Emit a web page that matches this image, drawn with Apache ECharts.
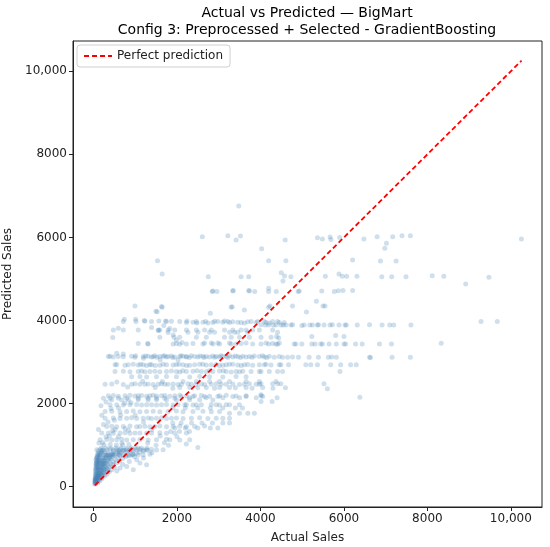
<!DOCTYPE html>
<html>
<head>
<meta charset="utf-8">
<script src="https://cdn.jsdelivr.net/npm/echarts@6/dist/echarts.min.js"></script>
<style>html,body{margin:0;padding:0;background:#fff}#c{width:550px;height:547px}</style>
</head>
<body>
<div id="c"></div>
<script>
// ---- Data (actual, predicted) ----
const titleLines = ["Actual vs Predicted \u2014 BigMart", "Config 3: Preprocessed + Selected - GradientBoosting"];
const xTicks = [0, 2000, 4000, 6000, 8000, 10000];
const yTicks = [0, 2000, 4000, 6000, 8000, 10000];
const perfectRange = [33, 10256];

const upperPts = [
[3481,6755],[2608,6017],[3220,6041],[3418,5938],[3522,6033],[4030,5730],[4594,5938],[5366,5990],[5485,5960],[5669,6010],[5690,5950],[5899,6000],[6479,5962],[6796,6017],[7170,6017],[7392,6041],[7592,6041],[10253,5962],[7019,5858],[6980,5737],
[1535,5440],[4197,5440],[4610,5440],[6208,5457],[6876,5433],[7250,5433],
[1646,5120],[2751,5056],[3537,5056],[3720,5056],[4500,5152],[4578,5072],[4730,5056],[4540,4952],[5556,5064],[5882,5120],[5961,5064],[6066,5064],[6312,5064],[6908,5056],[7146,5056],[7488,5056],[8116,5080],[8393,5064],[9475,5041],[8918,4880],
[2847,4696],[2957,4696],[3348,4720],[3720,4720],[3863,4696],[4197,4776],[4197,4696],[4380,4696],[4905,4696],[4930,4710],[5470,4710],[5770,4700],[5866,4715],[5978,4720],[6208,4720],[2861,4712],[3338,4712],[3736,4712],
[994,4351],[1646,4319],[3300,4319],[4230,4351],[4770,4351],[5500,4351],[5548,4351],[5103,4207],[5341,4464],[3323,4330],[3617,4255],[1631,4335],[1526,4214],[1495,4223],[2800,4175],[4197,4319]
];

const band4000 = [
[716,3974],[740,4030],[1010,4030],[1018,3974],[1217,3998],[1233,3980],[1391,3974],[1567,3990],[1686,3878],[1726,3990],[1750,3974],[1869,3980],[2067,3974],[2227,3950],[2241,3990],[2384,3960],[2465,3974],[2480,3940],[2623,3960],[2687,3974],[2742,3940],[2861,3950],[2902,3985],[2981,3974],[3100,3960],[3140,3990],[3219,3974],[3260,3950],[3338,3970],[3457,3960],[3537,3950],[3617,3940],[3696,3970],[3776,3974],[3895,3950],[3934,3974],[4015,3900],[4094,3974],[4118,3894],[4134,3950],[4197,3894],[4213,3940],[4292,3974],[4309,3894],[4373,3894],[4411,3974],[4452,3950],[4492,3894],[4547,3894],[4570,3950],[4610,3894],[4730,3894],[4770,3900],[4993,3880],[5048,3894],[5184,3894],[5246,3894],[5366,3894],[5390,3900],[5524,3894],[5668,3894],[5723,3900],[5882,3894],[6025,3894],[6058,3894],[6320,3894],[6614,3900],[6915,3894],[7098,3894],[7194,3894],[7606,3894],[9285,3974],[9675,3974]
];

const band3750 = [
[477,3774],[596,3815],[716,3774],[1073,3774],[1392,3830],[1550,3758],[1560,3774],[1590,3774],[1788,3710],[1790,3774],[1829,3806],[1948,3774],[2227,3774],[2265,3720],[2465,3774],[2504,3720],[2663,3774],[2782,3720],[2823,3774],[2902,3720],[3140,3774],[3260,3720],[3338,3774],[3378,3720],[3458,3720],[3537,3774],[3657,3774],[3696,3720],[3815,3774],[3975,3774],[4292,3774],[4411,3720]
];

const band3600 = [
[462,3590],[1590,3598],[1908,3654],[1931,3598],[1988,3534],[2067,3598],[2465,3598],[2704,3598],[3140,3598],[3300,3598],[3498,3598],[3736,3598],[4015,3598],[4253,3598],[4388,3613],[4438,3580],[5231,3613],[5803,3640],[6002,3613]
];

const band3450 = [
[1073,3446],[1297,3446],[1311,3437],[2122,3470],[1908,3437],[1988,3445],[2067,3430],[2227,3437],[2384,3450],[2623,3437],[2663,3460],[2823,3460],[2862,3437],[2981,3460],[3021,3437],[3260,3460],[3300,3437],[3418,3437],[3537,3445],[3657,3460],[3815,3437],[4015,3437],[4134,3460],[4197,3437],[4292,3445],[4373,3437],[4411,3430],[4452,3460],[4809,3437],[4850,3437],[4993,3437],[5231,3437],[5310,3437],[5446,3437],[5485,3437],[5644,3437],[5818,3437],[6002,3437],[6042,3437],[6280,3437],[6438,3437],[6852,3437],[7139,3437],[8331,3454]
];

const band3130 = [
[358,3132],[398,3140],[477,3125],[557,3210],[596,3132],[715,3195],[716,3130],[915,3140],[994,3118],[1010,3150],[1192,3132],[1200,3095],[1311,3140],[1391,3125],[1431,3130],[1470,3150],[1590,3132],[1600,3055],[1669,3140],[1749,3120],[1788,3132],[1868,3145],[1948,3125],[2027,3055],[2067,3132],[2146,3140],[2225,3125],[2227,3135],[2344,3150],[2424,3132],[2503,3120],[2622,3140],[2702,3132],[2781,3125],[2861,3145],[2941,3132],[3020,3120],[3100,3140],[3179,3132],[3259,3150],[3338,3125],[3458,3132],[3577,3140],[3656,3120],[3736,3132],[3855,3145],[3974,3132],[4094,3125],[4213,3140],[4332,3117],[4451,3132],[4530,3117],[4650,3117],[4769,3125],[4912,3117],[5167,3117],[5390,3117],[5628,3117],[5708,3125],[5818,3117],[6614,3117],[6638,3110],[7154,3117],[7592,3117],
[1250,3145],[1520,3118],[1700,3150],[1900,3110],[2100,3150],[2300,3112],[2550,3145],[2650,3110],[2900,3118],[3050,3150],[3220,3112],[3400,3145],[3520,3110],[3800,3115],[4050,3150],[4150,3110]
];

const band2933 = [
[517,2933],[557,2940],[756,2925],[835,2933],[954,2945],[1073,2930],[1192,2933],[1272,2920],[1352,2940],[1392,2933],[1590,2925],[1669,2945],[1750,2933],[1908,2930],[1988,2940],[2146,2933],[2306,2925],[2425,2933],[2544,2945],[2704,2930],[2823,2933],[2942,2940],[3100,2925],[3180,2933],[3338,2945],[3458,2930],[3617,2933],[3696,2940],[3815,2925],[3975,2933],[4094,2933],[4134,2945],[4254,2930],[4452,2933],[4492,2933],[4674,2933],[5088,2933],[5207,2933],[5366,2933],[5684,2933],[5923,2933],[6161,2933],[6295,2933],
[1130,2950],[1480,2915],[2050,2950],[2230,2915],[2620,2950],[3020,2915],[3260,2950],[3540,2915]
];

const band2772 = [
[517,2772],[716,2780],[875,2765],[1073,2772],[1154,2785],[1233,2770],[1352,2772],[1471,2780],[1590,2765],[1750,2772],[1869,2785],[1988,2772],[2067,2760],[2227,2772],[2384,2780],[2585,2772],[2704,2765],[2861,2772],[3021,2785],[3180,2772],[3300,2760],[3418,2772],[3577,2780],[3777,2772],[3975,2772],[4015,2772],[4213,2772],[4411,2772],[4530,2772],[5906,2772],
[2140,2790],[2480,2790],[2780,2790],[3110,2790],[3500,2765],
[915,2644],[1113,2650],[1273,2640],[1511,2644],[1750,2655],[1988,2644],[2306,2640],[2544,2650],[2782,2644],[3100,2640],[3418,2650],[3657,2644]
];

const band2469 = [
[279,2469],[438,2475],[715,2460],[915,2469],[994,2480],[1113,2465],[1233,2469],[1311,2475],[1431,2460],[1550,2469],[1630,2480],[1710,2465],[1788,2469],[1908,2475],[2027,2460],[2108,2469],[2265,2480],[2346,2465],[2465,2469],[2585,2475],[2663,2460],[2823,2469],[2942,2480],[3062,2465],[3180,2469],[3338,2475],[3498,2460],[3617,2469],[3736,2480],[3896,2465],[3975,2469],[4015,2476],[4292,2476],[4411,2476],[4490,2476],[5524,2476],
[2146,2532],[2465,2532],[2782,2532],[3021,2532],[3260,2532],[3657,2532],[3975,2532],[4373,2532],
[2067,2388],[2306,2388],[2704,2388],[3021,2388],[3260,2388],[3657,2388],[4054,2388],[5604,2356],
[1900,2372],[2500,2380],[2900,2372],[3400,2380],[3800,2372],[4300,2372],[4600,2380],
[560,2520],[820,2400],[1180,2540],[1480,2390],[1650,2530]
];

const band2188 = [
[358,2188],[477,2195],[596,2180],[756,2188],[875,2200],[994,2185],[1073,2188],[1154,2195],[1273,2180],[1352,2188],[1431,2200],[1511,2185],[1630,2188],[1710,2195],[1829,2180],[1948,2188],[2067,2200],[2227,2185],[2425,2188],[2585,2195],[2782,2180],[3021,2188],[3180,2200],[3418,2185],[3657,2188],[4015,2188],[4015,2211],[6383,2156],
[2107,2170],[2384,2170],[2663,2170],[2981,2170],[3338,2170],[3657,2170],[4054,2170],
[239,2132],[398,2132],[596,2132],[796,2132],[1073,2132],[1311,2132],[1511,2132],[1710,2132],[1948,2132],
[2300,2140],[2700,2140],[3100,2140],[3500,2140],[3900,2140],[4400,2140],
[438,2091],[677,2085],[835,2095],[1073,2091],[1311,2085],[1511,2095],[1750,2091],[1988,2085],[2306,2095],[2544,2091],[2861,2085],[4015,2050],[4280,2050],
[300,2040],[750,2010],[900,2020],[180,1950]
];

const band1900 = [
[398,1971],[557,1975],[715,1965],[875,1971],[1035,1980],[1154,1965],[1273,1971],[1392,1975],[1511,1965],[1630,1971],[1750,1980],[1908,1965],[2027,1971],[2186,1975],[2384,1965],[2585,1971],[2823,1980],[3021,1965],[3180,1971],[2227,1971],[2465,1971],[2942,1971],[3260,1971],[3498,1971],
[1900,1892],[2200,1892],[2500,1892],[2800,1892],[3100,1892],[3400,1892],[3570,1892],[420,1880],[600,1900],
[279,1811],[438,1815],[637,1805],[796,1811],[954,1820],[1113,1805],[1273,1811],[1431,1815],[1590,1805],[1788,1811],[1988,1820],[2146,1805],[2384,1811],[2623,1815],[2823,1805],[3021,1811],[3260,1771],[3500,1771],[3700,1771],[3855,1771],
[200,1720],[650,1720],[1000,1720]
];

const band1600 = [
[279,1651],[477,1655],[637,1645],[796,1651],[915,1660],[1035,1645],[1192,1651],[1311,1655],[1392,1645],[1511,1651],[1630,1660],[1750,1645],[1869,1651],[1988,1655],[2146,1645],[2346,1651],[2544,1660],[2742,1645],[2942,1651],[3100,1651],[3260,1651],
[1900,1531],[2100,1531],[2350,1531],[2600,1531],[2850,1531],[3100,1531],[3260,1531],[240,1500],[350,1560],[500,1600],[1200,1560],
[319,1450],[438,1455],[557,1445],[715,1450],[875,1460],[1035,1445],[1113,1450],[1233,1455],[1352,1445],[1471,1450],[1590,1460],[1750,1445],[1908,1450],[2067,1455],[2227,1445],[2425,1450],[2663,1460],[2980,1411],[2800,1411],[2500,1411],[2200,1411],[1950,1411],
[120,1380],[520,1380],[840,1360],[1400,1380],[760,1400]
];

const band1200 = [
[200,1291],[358,1295],[477,1285],[637,1291],[756,1300],[875,1285],[994,1291],[1113,1295],[1273,1285],[1392,1291],[1590,1300],[1750,1285],[1948,1291],[2227,1295],[2060,1330],[2300,1330],[1850,1330],[460,1350],
[160,1130],[319,1135],[438,1125],[557,1130],[677,1140],[796,1125],[954,1130],[1113,1135],[1311,1125],[1511,1130],[1750,1140],[2067,1125],[2306,1130],[1830,1130],[2224,1026],[2501,945],
[300,1200],[380,1220],[600,1210],[1600,1220],[2000,1200],[130,1050],[220,1060],[680,1050],[1300,1050],[1500,1000],[1700,1060],[1800,1000]
];

const band900 = [
[80,889],[160,895],[239,885],[319,889],[398,900],[477,885],[557,889],[637,895],[715,885],[796,889],[875,900],[954,885],[1035,889],[1113,895],[1192,885],[1272,889],[1392,900],[1511,885],[1669,889],
[190,930],[300,935],[420,925],[540,930],[660,940],[780,925],[900,930],[1000,935],[1070,925],[1150,930],[1280,935],
[250,1010],[400,1015],[550,1005],[700,1010],[850,1015],
[120,769],[239,775],[358,765],[477,769],[596,780],[715,765],[835,769],[954,775],[1073,765],[1192,769],[1352,780],[152,769],[300,769],[450,760],[620,772],[780,760],[906,769]
];

const lowCluster = [
[35,110],[50,150],[70,200],[90,250],[110,300],[130,350],[150,400],[170,450],[190,500],[215,560],[240,620],[265,690],[290,750],
[60,100],[90,150],[120,200],[150,250],[185,300],[220,360],[255,420],[290,480],[330,540],[370,600],[410,660],[450,720],
[100,90],[150,140],[200,190],[260,250],[320,300],[380,360],[440,410],[500,470],
[40,180],[45,240],[55,300],[60,360],[50,420],[65,480],[70,540],[80,600],[60,650],[75,700],[90,760],
[112,248],[170,380],[230,500],[300,620],[391,769],
[637,450],[796,488],[954,409],[1113,570],[1273,529],[1035,650],[560,380],[700,540],[860,610],[1200,690],[980,720],[1400,820],
[33,60],[45,90],[80,130],[120,170],[140,220],[200,260],[250,330],[330,420],[360,480],[420,540],[480,600],[520,660],[580,700],[640,740],[120,420],[100,520],[140,580],[180,640],[220,700],[260,830],[200,860],[150,820],[350,820],[480,850],[600,880],
[40,130],[42,200],[48,260],[52,330],[58,390],[62,450],[68,510],[72,570],[78,630],[85,690],[95,720],[105,800],[115,860],[55,120],[65,170],[75,230],[85,290],[95,350],[105,410],[115,470],[125,530],[135,590],[145,650],[160,710],[175,770],[195,820],[210,880],
[80,170],[100,230],[125,290],[140,320],[160,330],[180,400],[200,420],[210,460],[230,540],[245,580],[270,640],[285,700],[310,720],[340,760],[370,700],[400,720],[430,780],[460,800],[500,760],[540,790],[580,830],[620,840],[660,810],[700,860],[740,880],[800,840],[860,860],[920,880],
[280,560],[310,580],[350,640],[390,680],[130,260],[170,300],[210,330],[250,370],[280,400],[310,440],[60,550],[85,420],[95,600],[110,660],[130,720],[150,470],[160,560],[195,600],[230,650],[270,520],[240,460],[200,540],[125,630],[95,480],[70,300],[48,200],[36,150],[44,80],
[110,130],[170,210],[230,280],[330,370],[400,480],[470,540],[550,580],[620,620],[700,680],[780,720],[860,740],[940,780],[1020,800],[1100,830],[1200,860],[1300,880]
];

const scatterData = [].concat(upperPts, band4000, band3750, band3600, band3450, band3130,
  band2933, band2772, band2469, band2188, band1900, band1600, band1200, band900, lowCluster);

const chart = echarts.init(document.getElementById('c'), null, {renderer: 'canvas'});
const FONT = 'DejaVu Sans';
const fmt = v => v >= 10000 ? v.toLocaleString('en-US') : String(v);

chart.setOption({
  animation: false,
  backgroundColor: '#fff',
  textStyle: {fontFamily: FONT},
  graphic: [
    {type: 'text', x: 307, y: 13, style: {text: titleLines[0], font: '14px "DejaVu Sans"', fill: '#000', textAlign: 'center', textVerticalAlign: 'middle'}},
    {type: 'text', x: 307, y: 30, style: {text: titleLines[1], font: '14px "DejaVu Sans"', fill: '#000', textAlign: 'center', textVerticalAlign: 'middle'}}
  ],
  legend: {
    data: ['Perfect prediction'], left: 77, top: 45, orient: 'vertical',
    padding: [5, 7, 5, 6], backgroundColor: '#fff', borderColor: '#d0d0d0', borderWidth: 1, borderRadius: 3,
    itemWidth: 28, itemHeight: 10,
    itemStyle: {opacity: 0},
    textStyle: {fontFamily: FONT, fontSize: 12, color: '#222'}
  },
  grid: {left: 73, right: 8, top: 41, bottom: 40, show: true, borderColor: '#222', borderWidth: 1,
         backgroundColor: 'transparent', containLabel: false, outerBoundsMode: 'none'},
  xAxis: {
    type: 'value', min: -490, max: 10746,
    name: 'Actual Sales', nameLocation: 'middle', nameGap: 25,
    nameTextStyle: {fontFamily: FONT, fontSize: 12, color: '#222'},
    axisLine: {show: true, onZero: false, lineStyle: {color: '#222'}},
    axisTick: {show: true, length: 4, customValues: xTicks, lineStyle: {color: '#222'}},
    axisLabel: {customValues: xTicks, formatter: fmt, fontFamily: FONT, fontSize: 12, color: '#222', margin: 6},
    splitLine: {show: false}
  },
  yAxis: {
    type: 'value', min: -488, max: 10728,
    name: 'Predicted Sales', nameLocation: 'middle', nameGap: 49,
    nameTextStyle: {fontFamily: FONT, fontSize: 12, color: '#222'},
    axisLine: {show: true, onZero: false, lineStyle: {color: '#222'}},
    axisTick: {show: true, length: 4, customValues: yTicks, lineStyle: {color: '#222'}},
    axisLabel: {customValues: yTicks, formatter: fmt, fontFamily: FONT, fontSize: 12, color: '#222', margin: 6},
    splitLine: {show: false}
  },
  series: [
    {
      type: 'scatter', name: 'points', data: scatterData, symbolSize: 5,
      itemStyle: {color: 'rgba(70,130,180,0.32)'}, silent: true, z: 2
    },
    {
      type: 'line', name: 'Perfect prediction',
      data: [[perfectRange[0], perfectRange[0]], [perfectRange[1], perfectRange[1]]],
      symbol: 'none', z: 5,
      lineStyle: {color: '#ff0000', width: 1.8, type: [5, 3]},
      itemStyle: {color: '#ff0000'}
    }
  ]
});
</script>
</body>
</html>
